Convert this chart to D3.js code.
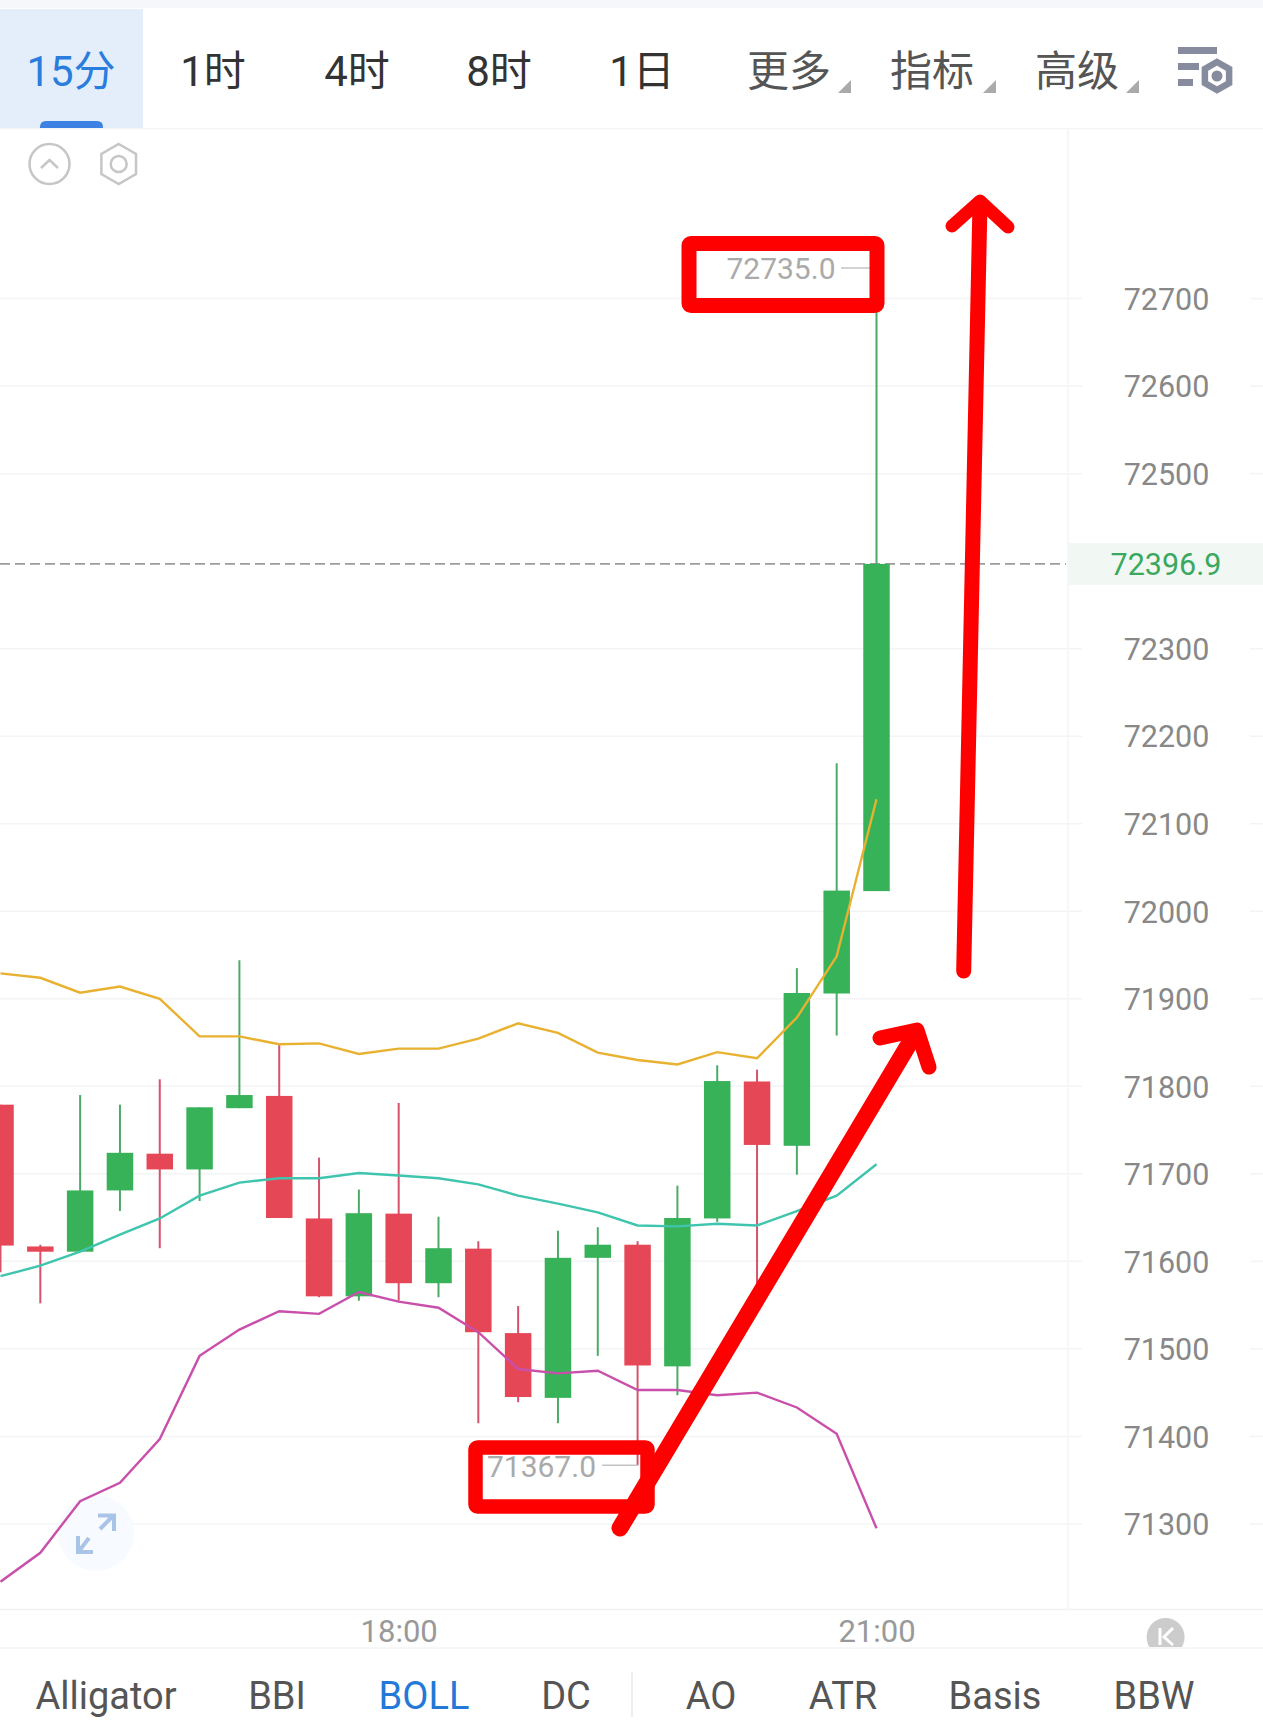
<!DOCTYPE html>
<html><head><meta charset="utf-8">
<script src="https://cdn.jsdelivr.net/npm/d3@7/dist/d3.min.js"></script>
<style>html,body{margin:0;padding:0;background:#fff}svg{display:block}text{font-family:Roboto,'Noto Sans CJK SC',sans-serif}</style>
</head><body><div id="chart"></div>
<script>
const times=["15:30","15:45","16:00","16:15","16:30","16:45","17:00","17:15","17:30","17:45","18:00","18:15","18:30","18:45","19:00","19:15","19:30","19:45","20:00","20:15","20:30","20:45","21:00"];
const open =[71779,71617,71611,71681,71723,71705,71775,71789,71649,71560,71654.5,71575,71614.5,71518,71444,71604,71619,71480,71649,71805.5,71732,71906,72023];
const close=[71618,71611,71681,71724,71705,71776,71790,71649.5,71560,71655,71575,71615,71519,71445,71604,71619,71481,71649.5,71806,71733,71906.6,72023.6,72396.9];
const high =[71779,71619,71790,71779,71808,71776,71944,71848,71718.5,71682,71781,71651,71623,71549,71635,71639,71623,71686.5,71824,71819,71935,72169,72735];
const low  =[71587.5,71552,71611,71657.5,71615,71669,71775,71649.5,71559,71555,71555,71559,71415,71439,71415,71492,71367,71447,71645,71575,71699,71858,72023];
const bollUpper=[71929,71924,71907,71914,71900,71857,71857,71848,71849,71837,71843,71843,71854.5,71872,71861,71838.5,71830,71825,71839,71832,71878.5,71948.5,72128];
const bollMid  =[71583,71595,71611,71630.5,71649,71675,71690,71695,71695,71701,71698,71695,71688,71675,71666,71656,71641,71640,71643,71641,71657.5,71675,71711];
const bollLower=[71234,71267,71326,71347,71397,71492,71522,71543,71540,71565,71554,71547,71519,71477,71472,71475,71453,71453,71447,71450,71433,71403,71295];
const priceTicks=[72700,72600,72500,72300,72200,72100,72000,71900,71800,71700,71600,71500,71400,71300];
const gridTicks=[72700,72600,72500,72300,72200,72100,72000,71900,71800,71700,71600,71500,71400,71300];
const timeTicks=["18:00","21:00"];
const lastPrice=72396.9, maxPrice=72735.0, minPrice=71367.0;
const tabs=["15分","1时","4时","8时","1日","更多","指标","高级"];
const tabX=[71,213,357,499,642,789,932,1077];
const indicators=["Alligator","BBI","BOLL","DC","AO","ATR","Basis","BBW"];
const indicatorX=[106,277,424,566,711,843,995,1154];

const W=1263,H=1727;
const svg=d3.select("#chart").append("svg").attr("width",W).attr("height",H).attr("viewBox",[0,0,W,H]);
const x=d3.scalePoint().domain(times).range([0.5,876.5]);
const y=d3.scaleLinear().domain([72700,71300]).range([298.6,1523.9]);
const GREEN="#38b259",RED="#e64757",GW="#4bab66",RW="#d6536b";

// frame
svg.append("rect").attr("width",W).attr("height",8).attr("fill","#f5f7fa");
svg.append("line").attr("x1",0).attr("x2",W).attr("y1",128.5).attr("y2",128.5).attr("stroke","#f4f5f7").attr("stroke-width",1.5);
svg.append("rect").attr("x",0).attr("y",9).attr("width",143).attr("height",119).attr("fill","#e4eefb");
svg.append("path").attr("d","M40 128V127Q40 121 46 121H97Q103 121 103 127V128Z").attr("fill","#3b82e4");
// gridlines
const gridG=svg.append("g").attr("stroke","#f3f4f6").attr("stroke-width",1.5);
gridG.selectAll("line.a").data(gridTicks).join("line").attr("class","a").attr("x1",0).attr("x2",1082).attr("y1",d=>y(d)).attr("y2",d=>y(d));
gridG.selectAll("line.b").data(gridTicks).join("line").attr("class","b").attr("x1",1250).attr("x2",W).attr("y1",d=>y(d)).attr("y2",d=>y(d));
svg.append("line").attr("x1",1068).attr("x2",1068).attr("y1",129).attr("y2",1609).attr("stroke","#f3f4f6").attr("stroke-width",1.5);
svg.append("line").attr("x1",0).attr("x2",W).attr("y1",1609.5).attr("y2",1609.5).attr("stroke","#f1f2f4").attr("stroke-width",1.5);
svg.append("line").attr("x1",0).attr("x2",W).attr("y1",1648).attr("y2",1648).attr("stroke","#f5f5f7").attr("stroke-width",1.5);

// fullscreen badge
svg.append("circle").attr("cx",96).attr("cy",1533).attr("r",38).attr("fill","#f7fafe");
svg.append("path").attr("d","M100 1529L113 1516M98 1515.5H114V1531M89 1538L79 1551M78 1536V1552H93").attr("fill","none").attr("stroke","#a9c4e6").attr("stroke-width",4);

// last price line + label bg
svg.append("line").attr("x1",0).attr("x2",1066).attr("y1",y(lastPrice)).attr("y2",y(lastPrice)).attr("stroke","#9c9c9c").attr("stroke-width",1.8).attr("stroke-dasharray","10 5");
svg.append("rect").attr("x",1069).attr("y",y(lastPrice)-21).attr("width",W-1069).attr("height",42).attr("fill","#f1f8f4");

// candles
const idx=d3.range(times.length);
const up=i=>close[i]>=open[i];
svg.append("g").selectAll("line").data(idx).join("line")
 .attr("x1",i=>x(times[i])).attr("x2",i=>x(times[i])).attr("y1",i=>y(high[i])).attr("y2",i=>y(low[i]))
 .attr("stroke",i=>up(i)?GW:RW).attr("stroke-width",2);
svg.append("g").selectAll("rect").data(idx).join("rect")
 .attr("x",i=>x(times[i])-13.25).attr("width",26.5)
 .attr("y",i=>y(Math.max(open[i],close[i])))
 .attr("height",i=>Math.abs(y(open[i])-y(close[i])))
 .attr("fill",i=>up(i)?GREEN:RED);

// bands
const line=d3.line().x((d,i)=>x(times[i])).y(d=>y(d));
[[bollUpper,"#e9b130"],[bollMid,"#3fc4ae"],[bollLower,"#c94fab"]].forEach(([s,c])=>{
 svg.append("path").datum(s).attr("d",line).attr("fill","none").attr("stroke",c).attr("stroke-width",2.4);
});

// axes
const yAxis=d3.axisLeft(y).tickValues(priceTicks).tickSize(0).tickPadding(0).tickFormat(d3.format("d"));
const yg=svg.append("g").attr("transform","translate(1166.5,1)").call(yAxis);
yg.select(".domain").remove();
yg.selectAll("text").attr("text-anchor","middle").attr("dx",0).attr("font-size",30.5).attr("font-family",null).attr("fill","#888");
const xAxis=d3.axisBottom(x).tickValues(timeTicks).tickSize(0).tickPadding(0);
const xg=svg.append("g").attr("transform","translate(0,1609)").call(xAxis);
xg.select(".domain").remove();
xg.selectAll("text").attr("y",0).attr("dy","33").attr("font-size",31).attr("font-family",null).attr("fill","#999");

svg.append("text").attr("x",1166).attr("y",y(lastPrice)).attr("dy",".38em").attr("text-anchor","middle").attr("font-size",30.5).attr("fill","#3aa85e").text(lastPrice.toFixed(1));

// hi/lo labels
svg.append("text").attr("x",835.5).attr("y",y(maxPrice)).attr("dy",".38em").attr("text-anchor","end").attr("font-size",30).attr("fill","#aaa").text(maxPrice.toFixed(1));
svg.append("line").attr("x1",841).attr("x2",x(times[22])).attr("y1",y(maxPrice)).attr("y2",y(maxPrice)).attr("stroke","#c4c4c4").attr("stroke-width",1.5);
svg.append("text").attr("x",596).attr("y",y(minPrice)).attr("dy",".38em").attr("text-anchor","end").attr("font-size",30).attr("fill","#aaa").text(minPrice.toFixed(1));
svg.append("line").attr("x1",602).attr("x2",x(times[16])).attr("y1",y(minPrice)).attr("y2",y(minPrice)).attr("stroke","#c4c4c4").attr("stroke-width",1.5);

// top tabs
svg.append("g").selectAll("text").data(tabs).join("text")
 .attr("x",(d,i)=>tabX[i]).attr("y",86).attr("text-anchor","middle").attr("font-size",42)
 .attr("fill",(d,i)=>i==0?"#2a7ddc":i<5?"#333":"#555").text(d=>d);
[[851,838],[996,983],[1139,1126]].forEach(([r,l])=>{
 svg.append("path").attr("d",`M${r} 80V93H${l}Z`).attr("fill","#aaa");
});
const iconC="#868b9e";
[[1178,47,39],[1178,63,21],[1178,79,15]].forEach(([a,b,w])=>svg.append("rect").attr("x",a).attr("y",b).attr("width",w).attr("height",7).attr("fill",iconC));
const hex=(cx,cy,r)=>d3.range(6).map(k=>{const t=Math.PI/3*k-Math.PI/2;return [cx+r*Math.cos(t),cy+r*Math.sin(t)].join(",")}).join(" ");
svg.append("polygon").attr("points",hex(1217,76,14)).attr("fill","none").attr("stroke",iconC).attr("stroke-width",6.5);
svg.append("circle").attr("cx",1217).attr("cy",76).attr("r",5.5).attr("fill",iconC);
// chart icons
svg.append("circle").attr("cx",49.5).attr("cy",164).attr("r",20).attr("fill","none").attr("stroke","#c6c6c6").attr("stroke-width",2.5);
svg.append("path").attr("d","M41 168L49.5 160L58 168").attr("fill","none").attr("stroke","#c6c6c6").attr("stroke-width",2.5);
svg.append("polygon").attr("points",hex(118.7,164,20)).attr("fill","none").attr("stroke","#c6c6c6").attr("stroke-width",2.5);
svg.append("circle").attr("cx",118.7).attr("cy",164).attr("r",8).attr("fill","none").attr("stroke","#c6c6c6").attr("stroke-width",2.5);

// K button
const clip=svg.append("clipPath").attr("id","kc");clip.append("rect").attr("x",1100).attr("y",1600).attr("width",130).attr("height",47);
const kg=svg.append("g").attr("clip-path","url(#kc)");
kg.append("circle").attr("cx",1165.6).attr("cy",1637).attr("r",19).attr("fill","#ccc");
kg.append("path").attr("d","M1160 1628V1645M1173 1628L1164 1637L1173 1645").attr("fill","none").attr("stroke","#fff").attr("stroke-width",3);

// bottom indicators
svg.append("g").selectAll("text").data(indicators).join("text")
 .attr("x",(d,i)=>indicatorX[i]).attr("y",1709).attr("text-anchor","middle").attr("font-size",38)
 .attr("fill",d=>d=="BOLL"?"#2378d8":"#555").text(d=>d);
svg.append("line").attr("x1",632).attr("x2",632).attr("y1",1672).attr("y2",1717).attr("stroke","#e8e8e8").attr("stroke-width",1.5);

// red annotations
const red=svg.append("g").attr("fill","none").attr("stroke","#ff0000").attr("stroke-linecap","round").attr("stroke-linejoin","round");
red.append("rect").attr("x",689).attr("y",243.5).attr("width",188).attr("height",62).attr("rx",2).attr("stroke-width",15);
red.append("rect").attr("x",475.5).attr("y",1447.5).attr("width",172).attr("height",59).attr("rx",2).attr("stroke-width",14.5);
red.append("path").attr("d","M963.7 971L980 203").attr("stroke-width",15);
red.append("path").attr("d","M952 226L980 201L1008 227").attr("stroke-width",13);
red.append("path").attr("d","M620 1528L915 1034").attr("stroke-width",17);
red.append("path").attr("d","M880 1038L917 1030L929 1067").attr("stroke-width",15);
</script></body></html>
